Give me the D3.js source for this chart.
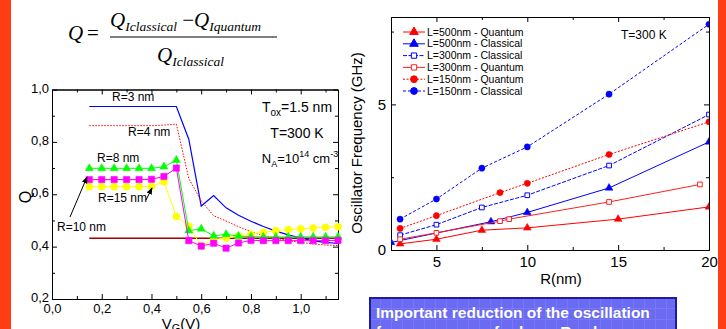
<!DOCTYPE html>
<html>
<head>
<meta charset="utf-8">
<script src="https://cdn.jsdelivr.net/npm/d3@7"></script>
<style>
body { margin: 0; background: #fff; }
svg { display: block; font-family: Arial, "Liberation Sans", sans-serif; }
</style>
</head>
<body>
<svg id="chart" width="726" height="329"></svg>
<script>
// ---- left chart: Q vs VG ----
var vg = [0.15,0.20,0.25,0.30,0.35,0.40,0.45,0.50,0.55,0.60,0.65,0.70,0.75,0.80,0.85,0.90,0.95,1.00,1.05,1.10,1.15];
var qR3  = [0.935,0.935,0.935,0.935,0.935,0.935,0.935,0.935,0.81,0.555,0.595,0.548,0.52,0.497,0.477,0.459,0.445,0.433,0.422,0.416,0.412];
var qR4  = [0.862,0.862,0.862,0.862,0.862,0.862,0.864,0.868,0.66,0.575,0.518,0.498,0.476,0.457,0.442,0.432,0.423,0.416,0.41,0.406,0.404];
var qR8  = [0.699,0.699,0.699,0.699,0.699,0.699,0.705,0.730,0.461,0.468,0.441,0.447,0.440,0.438,0.437,0.437,0.437,0.437,0.437,0.437,0.437];
var qR10 = [0.656,0.656,0.656,0.656,0.656,0.657,0.668,0.700,0.423,0.402,0.413,0.394,0.414,0.424,0.423,0.423,0.423,0.423,0.423,0.423,0.424];
var qR15 = [0.629,0.629,0.629,0.629,0.629,0.630,0.648,0.515,0.478,0.402,0.428,0.433,0.440,0.447,0.455,0.461,0.465,0.468,0.471,0.474,0.476];
var vgBulk = [0.15, 1.15];
var qBulk  = [0.432, 0.432];
var vgMajor = [0, 0.2, 0.4, 0.6, 0.8, 1.0];
var vgMinor = [0.1, 0.3, 0.5, 0.7, 0.9, 1.1];
var qMajor = [0.2, 0.4, 0.6, 0.8, 1.0];
var qMinor = [0.3, 0.5, 0.7, 0.9];

// ---- right chart: oscillator frequency vs R ----
var rL500q = [3, 5, 7.5, 10, 15, 20];
var fL500q = [0.21, 0.37, 0.68, 0.76, 1.06, 1.48];
var rL500c = [2.5, 8, 10, 14.5, 20];
var fL500c = [0.26, 0.97, 1.29, 2.13, 3.71];
var rL300c = [3, 5, 7.5, 10, 14.5, 20];
var fL300c = [0.51, 0.87, 1.46, 1.88, 2.90, 4.65];
var rL300q = [3, 5, 8.5, 9, 14.5, 19.5];
var fL300q = [0.37, 0.59, 0.99, 1.06, 1.65, 2.25];
var rL150q = [3, 5, 8.5, 10, 14.5, 20];
var fL150q = [0.74, 1.18, 1.97, 2.29, 3.28, 4.40];
var rL150c = [3, 5, 7.5, 10, 14.5, 20];
var fL150c = [1.06, 1.75, 2.81, 3.54, 5.35, 7.75];
var legendNames = ["L=500nm - Quantum", "L=500nm - Classical", "L=300nm - Classical",
                   "L=300nm - Quantum", "L=150nm - Quantum", "L=150nm - Classical"];
var rMajor = [5, 10, 15, 20];
var rMinor = [7.5, 12.5, 17.5];
var fMajor = [0, 5];
var fMinor = [2.5, 7.5];

var svg = d3.select("#chart");
svg.append("rect").attr("width", 726).attr("height", 329).attr("fill", "#fff");
svg.append("rect").attr("x", 0).attr("width", 11).attr("height", 329).attr("fill", "#ff3c14");
svg.append("rect").attr("x", 718).attr("width", 8).attr("height", 329).attr("fill", "#ff3c14");

var defs = svg.append("defs");
defs.append("marker").attr("id", "arr").attr("viewBox", "0 0 10 10").attr("refX", 9).attr("refY", 5)
    .attr("markerWidth", 7).attr("markerHeight", 7).attr("orient", "auto")
  .append("path").attr("d", "M0,1L10,5L0,9z").attr("fill", "#000");

function addAxis(gen, tr, fs) {
  var a = svg.append("g").attr("transform", tr).call(gen);
  a.attr("font-family", null).attr("font-size", fs);
  a.selectAll("text").attr("fill", "#000");
  a.select(".domain").attr("stroke", "#000");
  return a;
}
var comma = function(d) { return d3.format(".1f")(d).replace(".", ","); };

function drawSeries(g, xs, ys, sx, sy, o) {
  var pts = xs.map(function(v, i) { return [v, ys[i]]; });
  g.append("path").datum(pts)
    .attr("d", d3.line().x(function(d) { return sx(d[0]); }).y(function(d) { return sy(d[1]); }))
    .attr("fill", "none").attr("stroke", o.color).attr("stroke-width", o.width || 1)
    .attr("stroke-dasharray", o.dash || null);
  if (o.symbol) {
    g.selectAll(null).data(pts).enter().append("path")
      .attr("transform", function(d) { return "translate(" + sx(d[0]) + "," + sy(d[1]) + ")"; })
      .attr("d", d3.symbol().type(o.symbol).size(o.size)())
      .attr("fill", o.open ? "#fff" : o.color)
      .attr("stroke", o.color).attr("stroke-width", o.open ? 1 : 0.5);
  }
}

// ===== left chart =====
var xQ = d3.scaleLinear().domain([0, 1.15]).range([52, 338]);
var yQ = d3.scaleLinear().domain([0.2, 1.0]).range([299, 89.5]);

addAxis(d3.axisBottom(xQ).tickValues(vgMajor).tickSize(-5).tickSizeOuter(0).tickPadding(5).tickFormat(comma), "translate(0,299)", 13);
addAxis(d3.axisBottom(xQ).tickValues(vgMinor).tickSize(-3).tickSizeOuter(0).tickFormat(""), "translate(0,299)", 13);
addAxis(d3.axisTop(xQ).tickValues(vgMajor).tickSize(-5).tickSizeOuter(0).tickFormat(""), "translate(0,89.5)", 13);
addAxis(d3.axisTop(xQ).tickValues(vgMinor).tickSize(-3).tickSizeOuter(0).tickFormat(""), "translate(0,89.5)", 13);
var yAx = addAxis(d3.axisLeft(yQ).tickValues(qMajor).tickSize(-5).tickSizeOuter(0).tickPadding(3).tickFormat(comma), "translate(52,0)", 13);
yAx.selectAll("text").attr("dy", "0.2em");
addAxis(d3.axisLeft(yQ).tickValues(qMinor).tickSize(-3).tickSizeOuter(0).tickFormat(""), "translate(52,0)", 13);
addAxis(d3.axisRight(yQ).tickValues(qMajor).tickSize(-5).tickSizeOuter(0).tickFormat(""), "translate(338,0)", 13);
addAxis(d3.axisRight(yQ).tickValues(qMinor).tickSize(-3).tickSizeOuter(0).tickFormat(""), "translate(338,0)", 13);

var gQ = svg.append("g");
drawSeries(gQ, vgBulk, qBulk, xQ, yQ, { color: "#a00000", width: 1.3 });
drawSeries(gQ, vg, qR3, xQ, yQ, { color: "#0000ff", width: 1.2 });
drawSeries(gQ, vg, qR4, xQ, yQ, { color: "#ff0000", dash: "1.5,1.5" });
drawSeries(gQ, vg, qR15, xQ, yQ, { color: "#ffff00", symbol: d3.symbolCircle, size: 40 });
drawSeries(gQ, vg, qR8, xQ, yQ, { color: "#00ff00", symbol: d3.symbolTriangle, size: 28 });
drawSeries(gQ, vg, qR10, xQ, yQ, { color: "#ff00ff", symbol: d3.symbolSquare, size: 40 });

var lbl = svg.append("g").attr("font-size", 12).attr("fill", "#000");
lbl.append("text").attr("x", 112).attr("y", 101).text("R=3 nm");
lbl.append("text").attr("x", 128).attr("y", 136).text("R=4 nm");
lbl.append("text").attr("x", 97).attr("y", 162).text("R=8 nm");
lbl.append("text").attr("x", 98).attr("y", 202).text("R=15 nm");
lbl.append("text").attr("x", 57).attr("y", 231).text("R=10 nm");
svg.append("line").attr("x1", 70).attr("y1", 217).attr("x2", 87).attr("y2", 177)
  .attr("stroke", "#000").attr("stroke-width", 1).attr("marker-end", "url(#arr)");
svg.append("line").attr("x1", 146).attr("y1", 200).attr("x2", 152).attr("y2", 188)
  .attr("stroke", "#000").attr("stroke-width", 1).attr("marker-end", "url(#arr)");

var ann = svg.append("g").attr("font-size", 14).attr("fill", "#000").attr("text-anchor", "middle");
var t1 = ann.append("text").attr("x", 297).attr("y", 112);
t1.append("tspan").text("T");
t1.append("tspan").attr("font-size", 10).attr("dy", 4).text("ox");
t1.append("tspan").attr("dy", -4).text("=1.5 nm");
ann.append("text").attr("x", 297).attr("y", 138).text("T=300 K");
var t3 = ann.append("text").attr("x", 300).attr("y", 163).attr("font-size", 13);
t3.append("tspan").text("N");
t3.append("tspan").attr("font-size", 9).attr("dy", 4).text("A");
t3.append("tspan").attr("dy", -4).text("=10");
t3.append("tspan").attr("font-size", 9).attr("dy", -6).text("14");
t3.append("tspan").attr("dy", 6).text(" cm");
t3.append("tspan").attr("font-size", 9).attr("dy", -6).text("-3");

svg.append("text").attr("transform", "translate(31,197) rotate(-90)").attr("text-anchor", "middle")
  .attr("font-size", 16).text("Q");
var vl = svg.append("text").attr("x", 181).attr("y", 329).attr("text-anchor", "middle").attr("font-size", 15);
vl.append("tspan").text("V");
vl.append("tspan").attr("font-size", 11).attr("dy", 3).text("G");
vl.append("tspan").attr("dy", -3).text("(V)");

// formula
var fm = svg.append("g").attr("font-family", "'Liberation Serif', 'Times New Roman', serif").attr("font-style", "italic").attr("fill", "#000");
fm.append("text").attr("x", 68).attr("y", 40).attr("font-size", 21).text("Q");
fm.append("text").attr("x", 87).attr("y", 40).attr("font-size", 21).attr("font-style", "normal").text("=");
var num = fm.append("text").attr("x", 110).attr("y", 27).attr("font-size", 21);
num.append("tspan").text("Q");
num.append("tspan").attr("font-size", 13.5).attr("dy", 4).text("Iclassical");
num.append("tspan").attr("dy", -4).attr("font-style", "normal").text(" \u2212");
num.append("tspan").text("Q");
num.append("tspan").attr("font-size", 13.5).attr("dy", 4).text("Iquantum");
fm.append("line").attr("x1", 110).attr("x2", 277).attr("y1", 37).attr("y2", 37).attr("stroke", "#000").attr("stroke-width", 1);
var den = fm.append("text").attr("x", 157).attr("y", 62).attr("font-size", 21);
den.append("tspan").text("Q");
den.append("tspan").attr("font-size", 13.5).attr("dy", 4).text("Iclassical");

// ===== right chart =====
var xR = d3.scaleLinear().domain([2.5, 20]).range([391, 709]);
var yF = d3.scaleLinear().domain([0, 8]).range([250, 17]);

addAxis(d3.axisBottom(xR).tickValues(rMajor).tickSize(-5).tickSizeOuter(0).tickPadding(6), "translate(0,250)", 15);
addAxis(d3.axisBottom(xR).tickValues(rMinor).tickSize(-3).tickSizeOuter(0).tickFormat(""), "translate(0,250)", 15);
addAxis(d3.axisTop(xR).tickValues(rMajor).tickSize(-5).tickSizeOuter(0).tickFormat(""), "translate(0,17)", 15);
addAxis(d3.axisTop(xR).tickValues(rMinor).tickSize(-3).tickSizeOuter(0).tickFormat(""), "translate(0,17)", 15);
addAxis(d3.axisLeft(yF).tickValues(fMajor).tickSize(-5).tickSizeOuter(0).tickPadding(5), "translate(391,0)", 15);
addAxis(d3.axisLeft(yF).tickValues(fMinor).tickSize(-3).tickSizeOuter(0).tickFormat(""), "translate(391,0)", 15);
addAxis(d3.axisRight(yF).tickValues(fMajor).tickSize(-5).tickSizeOuter(0).tickFormat(""), "translate(709,0)", 15);
addAxis(d3.axisRight(yF).tickValues(fMinor).tickSize(-3).tickSizeOuter(0).tickFormat(""), "translate(709,0)", 15);

defs.append("clipPath").attr("id", "clipR").append("rect")
  .attr("x", 391).attr("y", 17).attr("width", 318).attr("height", 233);
var gF = svg.append("g").attr("clip-path", "url(#clipR)");
var styles = [
  { color: "#ff0000", symbol: d3.symbolTriangle, size: 26 },
  { color: "#0000ff", symbol: d3.symbolTriangle, size: 26 },
  { color: "#0000ff", dash: "4,1.5", symbol: d3.symbolSquare, size: 22, open: true },
  { color: "#ff2020", symbol: d3.symbolSquare, size: 22, open: true },
  { color: "#ff0000", dash: "2,1.5", symbol: d3.symbolCircle, size: 30 },
  { color: "#0000ff", dash: "3,2", symbol: d3.symbolCircle, size: 30 }
];
drawSeries(gF, rL500q, fL500q, xR, yF, styles[0]);
drawSeries(gF, rL500c, fL500c, xR, yF, styles[1]);
drawSeries(gF, rL300c, fL300c, xR, yF, styles[2]);
drawSeries(gF, rL300q, fL300q, xR, yF, styles[3]);
drawSeries(gF, rL150q, fL150q, xR, yF, styles[4]);
drawSeries(gF, rL150c, fL150c, xR, yF, styles[5]);

var leg = svg.append("g").attr("font-size", 10.5);
legendNames.forEach(function(name, i) {
  var y = 32 + i * 11.8, s = styles[i];
  leg.append("line").attr("x1", 403).attr("x2", 425).attr("y1", y).attr("y2", y)
    .attr("stroke", s.color).attr("stroke-dasharray", s.dash || null);
  leg.append("path").attr("transform", "translate(414," + y + ")")
    .attr("d", d3.symbol().type(s.symbol).size(s.size + 6)())
    .attr("fill", s.open ? "#fff" : s.color).attr("stroke", s.color);
  leg.append("text").attr("x", 427).attr("y", y).attr("dy", "0.35em").text(name);
});
svg.append("text").attr("x", 621).attr("y", 39).attr("font-size", 12).text("T=300 K");

svg.append("text").attr("transform", "translate(362,143) rotate(-90)").attr("text-anchor", "middle")
  .attr("font-size", 15).text("Oscillator Frequency (GHz)");
svg.append("text").attr("x", 561).attr("y", 284).attr("text-anchor", "middle").attr("font-size", 15).text("R(nm)");

// note box
var pat = defs.append("pattern").attr("id", "grid").attr("patternUnits", "userSpaceOnUse")
  .attr("width", 11).attr("height", 11).attr("x", 370).attr("y", 298);
pat.append("rect").attr("width", 11).attr("height", 11).attr("fill", "#6a6af2");
pat.append("path").attr("d", "M11,0V11M0,11H11").attr("stroke", "#8484ff").attr("stroke-width", 1);
svg.append("rect").attr("x", 370).attr("y", 298).attr("width", 306).attr("height", 40)
  .attr("fill", "url(#grid)").attr("stroke", "#1c1c9c").attr("stroke-width", 2);
var note = svg.append("g").attr("font-size", 15.5).attr("font-weight", "bold").attr("fill", "#fff");
note.append("text").attr("x", 376).attr("y", 318).text("Important reduction of the oscillation");
note.append("text").attr("x", 376).attr("y", 337).text("frequency even for large R values");
</script>
</body>
</html>
